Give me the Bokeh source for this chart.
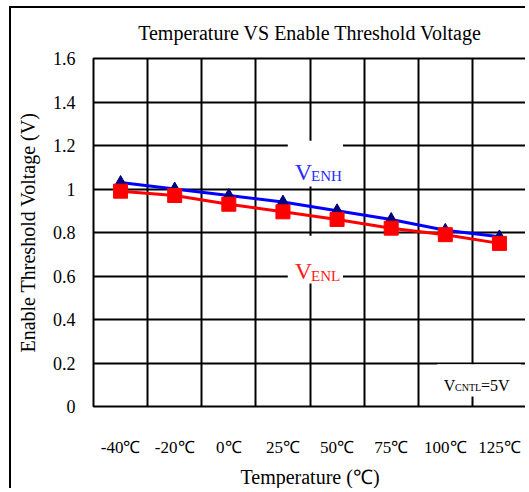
from bokeh.plotting import figure
from bokeh.models import FixedTicker, Label, BoxAnnotation, Range1d
from bokeh.embed import file_html
from bokeh.resources import INLINE

categories = ["-40℃", "-20℃", "0℃", "25℃", "50℃", "75℃", "100℃", "125℃"]
v_enh = [1.03, 1.00, 0.97, 0.94, 0.90, 0.86, 0.81, 0.78]
v_enl = [0.99, 0.97, 0.93, 0.895, 0.86, 0.82, 0.79, 0.75]
y_ticks = [0, 0.2, 0.4, 0.6, 0.8, 1.0, 1.2, 1.4, 1.6]
y_tick_labels = ["0", "0.2", "0.4", "0.6", "0.8", "1", "1.2", "1.4", "1.6"]
title_text = "Temperature VS Enable Threshold Voltage"

SERIF = "Liberation Serif"
x = [i + 0.5 for i in range(len(categories))]

W, H = 516, 482
p = figure(width=W, height=H, output_backend="svg", toolbar_location=None,
           x_range=Range1d(0, len(categories)), y_range=Range1d(0, 1.6),
           min_border_left=82, min_border_right=1, min_border_top=50, min_border_bottom=82,
           styles={"margin-left": "9px", "margin-top": "6px",
                   "border-left": "2px solid black", "border-top": "2px solid black"})

p.title.text = title_text
p.title.align = "center"
p.title.offset = 4
p.title.text_font = SERIF
p.title.text_font_size = "20px"
p.title.text_font_style = "normal"
p.title.text_color = "black"
p.title.vertical_align = "top"
p.title.standoff = 25

p.outline_line_color = "black"
p.outline_line_width = 2

p.xgrid.ticker = FixedTicker(ticks=list(range(1, len(categories))))
p.ygrid.ticker = FixedTicker(ticks=y_ticks)
for g in (p.xgrid, p.ygrid):
    g.grid_line_color = "black"
    g.grid_line_width = 2

p.xaxis.ticker = FixedTicker(ticks=x)
p.xaxis.major_label_overrides = {xi: c for xi, c in zip(x, categories)}
p.yaxis.ticker = FixedTicker(ticks=y_ticks)
p.yaxis.major_label_overrides = {t: l for t, l in zip(y_ticks, y_tick_labels)}

for ax in (p.xaxis, p.yaxis):
    ax.axis_line_color = None
    ax.major_tick_line_color = None
    ax.minor_tick_line_color = None
    ax.major_label_text_font = SERIF
    ax.major_label_text_color = "black"
    ax.axis_label_text_font = SERIF
    ax.axis_label_text_font_size = "20px"
    ax.axis_label_text_font_style = "normal"
    ax.axis_label_text_color = "black"

p.xaxis.major_label_text_font_size = "17px"
p.yaxis.major_label_text_font_size = "18px"
p.xaxis.major_label_standoff = 25
p.yaxis.major_label_standoff = 12
p.xaxis.axis_label = "Temperature (℃)"
p.yaxis.axis_label = "Enable Threshold Voltage (V)"
p.xaxis.axis_label_standoff = 6
p.yaxis.axis_label_standoff = 11

p.line(x, v_enh, line_color="#0000FF", line_width=3)
p.line(x, v_enl, line_color="#FF0000", line_width=3)
p.scatter(x, v_enh, marker="triangle", size=12, fill_color="#000080", line_color="#000080")
p.scatter(x, v_enl, marker="square", size=14, fill_color="#FF0000", line_color="#FF0000")

for l, r, b, t in [(3.59, 4.61, 1.012, 1.222), (3.59, 4.61, 0.565, 0.785), (6.35, 7.9, 0.046, 0.194)]:
    p.add_layout(BoxAnnotation(left=l, right=r, bottom=b, top=t, fill_color="white",
                               fill_alpha=1, line_color=None))

def lab(xx, yy, txt, size, color):
    p.add_layout(Label(x=xx, y=yy, text=txt, text_font=SERIF, text_font_size=size,
                       text_color=color, text_baseline="alphabetic"))

lab(3.72, 1.078, "V", "24px", "#2B2BFF")
lab(4.02, 1.059, "ENH", "15px", "#2B2BFF")
lab(3.72, 0.621, "V", "24px", "#FF1A1A")
lab(4.02, 0.598, "ENL", "15px", "#FF1A1A")
lab(6.47, 0.096, "V", "16px", "black")
lab(6.68, 0.087, "CNTL", "10px", "black")
lab(7.16, 0.096, "=5V", "16px", "black")

open("out.html", "w").write(file_html(p, INLINE))
